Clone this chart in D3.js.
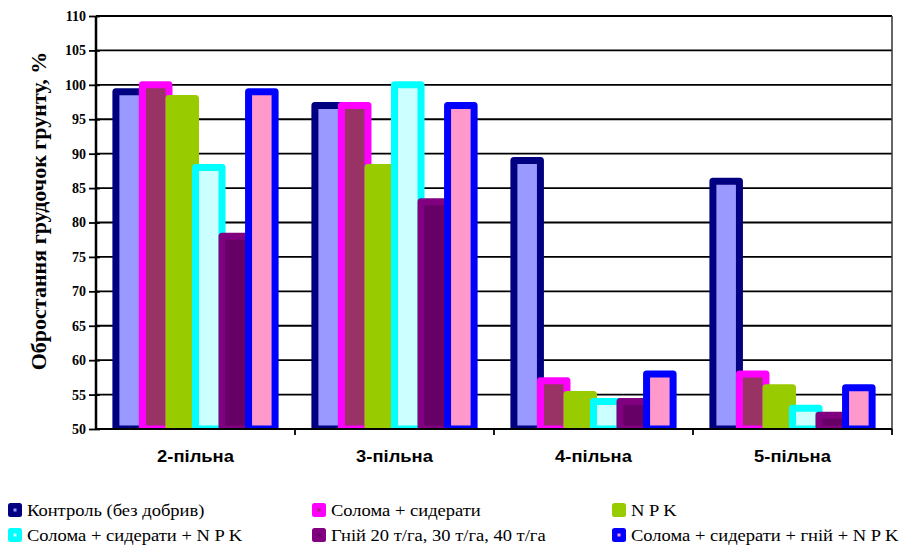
<!DOCTYPE html>
<html>
<head>
<meta charset="utf-8">
<script src="https://cdn.jsdelivr.net/npm/d3@7"></script>
<style>
  html, body { margin: 0; padding: 0; background: #fff; }
  svg { display: block; }
  .serif { font-family: "Liberation Serif", "Times New Roman", "DejaVu Serif", serif; }
  .sans { font-family: "Liberation Sans", Arial, sans-serif; }
</style>
</head>
<body>
<svg id="chart" width="905" height="552"></svg>
<script>
// Rotation schemes (categories) and the share of overgrown soil clods, %
const categories = ["2-пільна", "3-пільна", "4-пільна", "5-пільна"];
const seriesNames = [
  "Контроль (без добрив)",
  "Солома + сидерати",
  "N P K",
  "Солома + сидерати + N P K",
  "Гній 20 т/га, 30 т/га, 40 т/га",
  "Солома + сидерати + гній + N P K"
];
const control      = [99, 97, 89, 86];
const straw        = [100, 97, 57, 58];
const npk          = [98, 88, 55, 56];
const strawNpk     = [88, 100, 54, 53];
const manure       = [78, 83, 54, 52];
const strawAll     = [99, 97, 58, 56];
const yTicks = [50, 55, 60, 65, 70, 75, 80, 85, 90, 95, 100, 105, 110];
const yTitle = "Обростання грудочок грунту, %";

const seriesValues = [control, straw, npk, strawNpk, manure, strawAll];
const strokeColors = ["#000080", "#FF00FF", "#99CC00", "#00FFFF", "#800080", "#0000FF"];
const fillColors   = ["#9999FF", "#993366", "#99CC00", "#CCFFFF", "#660066", "#FF99CC"];

const svg = d3.select("#chart");
const plot = { left: 96, right: 892, top: 16, bottom: 429 };

const x = d3.scaleBand().domain(categories).range([plot.left, plot.right]).padding(0);
const y = d3.scaleLinear().domain([50, 110]).range([plot.bottom, plot.top]);

// bars fill 6 of 7.5 slots of each band (gap width 150%)
const barW = x.bandwidth() / 7.5;
const x1 = d3.scaleBand().domain(d3.range(seriesNames.length))
  .range([0, barW * seriesNames.length]);

// horizontal grid
svg.append("g").selectAll("line").data(yTicks).join("line")
  .attr("x1", plot.left).attr("x2", plot.right)
  .attr("y1", d => y(d)).attr("y2", d => y(d))
  .attr("stroke", "#000").attr("stroke-width", 1.8);

// right frame edge
svg.append("line")
  .attr("x1", plot.right).attr("x2", plot.right)
  .attr("y1", plot.top).attr("y2", plot.bottom)
  .attr("stroke", "#333").attr("stroke-width", 1.5);

svg.append("clipPath").attr("id", "plotClip").append("rect")
  .attr("x", plot.left).attr("y", 0)
  .attr("width", plot.right - plot.left).attr("height", plot.bottom);

const barsG = svg.append("g").attr("clip-path", "url(#plotClip)");
seriesValues.forEach((vals, s) => {
  barsG.append("g").selectAll("rect").data(vals).join("rect")
    .attr("x", (d, i) => x(categories[i]) + barW * 0.75 + x1(s))
    .attr("y", d => y(d))
    .attr("width", barW)
    .attr("height", d => y(50) - y(d))
    .attr("fill", fillColors[s])
    .attr("stroke", strokeColors[s])
    .attr("stroke-width", 7)
    .attr("stroke-linejoin", "round");
});

// y axis
const yAxis = d3.axisLeft(y).tickValues(yTicks).tickSize(0).tickPadding(10);
const yAxisG = svg.append("g").attr("transform", `translate(${plot.left},0)`).call(yAxis);
yAxisG.attr("font-family", null);
yAxisG.select(".domain").remove();
yAxisG.selectAll(".tick text").attr("class", "serif")
  .attr("font-weight", "bold").attr("font-size", 14).attr("fill", "#000");
yAxisG.selectAll(".tick").append("line")
  .attr("x1", -7).attr("x2", 4).attr("stroke", "#000").attr("stroke-width", 1.8);
svg.append("line")
  .attr("x1", plot.left).attr("x2", plot.left)
  .attr("y1", plot.top).attr("y2", plot.bottom + 1)
  .attr("stroke", "#000").attr("stroke-width", 2.5);

// x axis
const xAxis = d3.axisBottom(x).tickSize(0).tickPadding(21);
const xAxisG = svg.append("g").attr("transform", `translate(0,${plot.bottom})`).call(xAxis);
xAxisG.attr("font-family", null);
xAxisG.select(".domain").remove();
xAxisG.selectAll(".tick text").attr("class", "sans")
  .attr("font-weight", "bold").attr("font-size", 17).attr("fill", "#000")
  .attr("transform", "scale(1.08,1)");
svg.append("line")
  .attr("x1", plot.left).attr("x2", plot.right)
  .attr("y1", plot.bottom).attr("y2", plot.bottom)
  .attr("stroke", "#000").attr("stroke-width", 2.2);
// category separators below the axis
svg.append("g").selectAll("line").data(categories).join("line")
  .attr("x1", (d, i) => plot.left + x.bandwidth() * (i + 1))
  .attr("x2", (d, i) => plot.left + x.bandwidth() * (i + 1))
  .attr("y1", plot.bottom).attr("y2", plot.bottom + 6)
  .attr("stroke", "#000").attr("stroke-width", 1.8);

// y title
svg.append("text").attr("class", "serif")
  .attr("transform", "translate(46,211) rotate(-90)")
  .attr("text-anchor", "middle")
  .attr("font-weight", "bold").attr("font-size", 22)
  .text(yTitle);

// legend
const legCols = [8, 312, 612];
const legRows = [503, 528];
const leg = svg.append("g").selectAll("g").data(seriesNames).join("g")
  .attr("transform", (d, i) => `translate(${legCols[i % 3]},${legRows[Math.floor(i / 3)]})`);
leg.append("rect").attr("width", 14).attr("height", 14).attr("rx", 2.5)
  .attr("fill", (d, i) => strokeColors[i]);
leg.append("rect").attr("x", 5.5).attr("y", 5.5).attr("width", 3).attr("height", 3)
  .attr("fill", (d, i) => fillColors[i]);
leg.append("text").attr("class", "serif")
  .attr("transform", "translate(19,13) scale(1.09,1)")
  .attr("font-size", 17)
  .text(d => d);
</script>
</body>
</html>
